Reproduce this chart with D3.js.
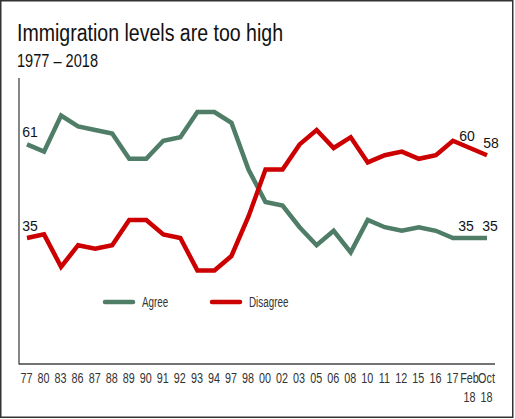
<!DOCTYPE html>
<html><head><meta charset="utf-8">
<script src="https://cdn.jsdelivr.net/npm/d3@7"></script>
<style>body{margin:0;background:#fff}svg{display:block}</style>
</head><body>
<svg id="c" width="515" height="419"></svg>
<script>
const categories = ["77","80","83","86","87","88","89","90","91","92","93","94","97","98","00","02","03","05","06","08","10","11","12","15","16","17","Feb\n18","Oct\n18"];
const agree    = [61,59,69,66,65,64,57,57,62,63,70,70,67,54,45,44,38,33,37,31,40,38,37,38,37,35,35,35];
const disagree = [35,36,27,33,32,33,40,40,36,35,26,26,30,41,54,54,61,65,60,63,56,58,59,57,58,62,60,58];
const seriesNames = ["Agree","Disagree"];
const colors = {Agree:"#4f7d67", Disagree:"#cc0000"};
// labelled points: [series, index, horizontal nudge]
const labelled = [["Agree",0,3],["Disagree",0,3],["Disagree",26,-3],["Disagree",27,4],["Agree",26,-4],["Agree",27,3]];

const svg = d3.select("#c");

svg.append("rect").attr("x",0.75).attr("y",0.75).attr("width",512).attr("height",416.5)
  .attr("fill","#fff").attr("stroke","#333").attr("stroke-width",1.5);

svg.append("text").attr("x",17).attr("y",41).text("Immigration levels are too high")
  .attr("font-family","'Liberation Sans',Arial,sans-serif").attr("font-size",23).attr("fill","#111")
  .attr("textLength",266).attr("lengthAdjust","spacingAndGlyphs");
svg.append("text").attr("x",17).attr("y",67).text("1977 – 2018")
  .attr("font-family","'Liberation Sans',Arial,sans-serif").attr("font-size",17.5).attr("fill","#111")
  .attr("textLength",81).attr("lengthAdjust","spacingAndGlyphs");

const x = d3.scalePoint().domain(categories).range([27,487]).padding(0);
const y = d3.scaleLinear().domain([0,80]).range([364,76]);

svg.append("line").attr("x1",19).attr("x2",19).attr("y1",78).attr("y2",364.5).attr("stroke","#444").attr("stroke-width",1.3);
svg.append("line").attr("x1",19).attr("x2",495).attr("y1",364).attr("y2",364).attr("stroke","#444").attr("stroke-width",1.3);

const xAxis = svg.append("g").attr("transform","translate(0,364)")
  .call(d3.axisBottom(x).tickSize(0).tickPadding(0).tickFormat(()=>""));
xAxis.select(".domain").remove();
xAxis.selectAll(".tick").each(function(d){
  const g = d3.select(this);
  const lines = d.split("\n");
  const t = g.append("text").attr("fill","#333").attr("font-family","'Liberation Sans',Arial,sans-serif")
    .attr("font-size",15).attr("text-anchor","middle").attr("transform","translate(-1,0) scale(0.72,1)");
  lines.forEach((l,i)=>t.append("tspan").attr("x",0).attr("y",19.5+i*19).text(l));
});

const data = {Agree:agree, Disagree:disagree};
const line = d3.line().x((d,i)=>x(categories[i])).y(d=>y(d));
seriesNames.forEach(s=>{
  svg.append("path").datum(data[s]).attr("d",line).attr("fill","none")
    .attr("stroke",colors[s]).attr("stroke-width",4.5).attr("stroke-linejoin","miter").attr("stroke-miterlimit",3);
});

labelled.forEach(([s,i,dx])=>{
  svg.append("text").attr("x",x(categories[i])+dx).attr("y",y(data[s][i])-7)
    .attr("text-anchor","middle").attr("font-family","'Liberation Sans',Arial,sans-serif")
    .attr("font-size",14).attr("fill","#111").text(data[s][i]);
});

const legX = [105,212];
seriesNames.forEach((s,k)=>{
  const g = svg.append("g").attr("transform",`translate(${legX[k]},302)`);
  g.append("line").attr("x1",0).attr("x2",28).attr("y1",0).attr("y2",0)
    .attr("stroke",colors[s]).attr("stroke-width",4.5).attr("stroke-linecap","round");
  g.append("text").attr("x",0).attr("y",5).attr("fill","#333")
    .attr("font-family","'Liberation Sans',Arial,sans-serif").attr("font-size",14.5)
    .attr("transform","translate(37,0) scale(0.68,1)").text(s);
});
</script>
</body></html>
